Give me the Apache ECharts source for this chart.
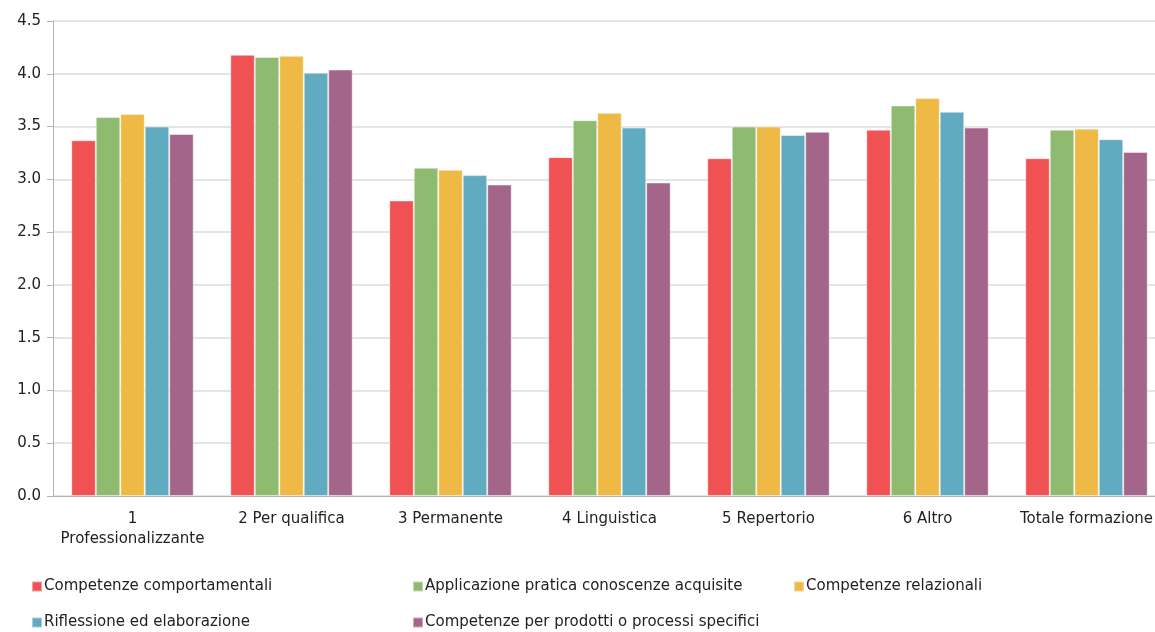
<!DOCTYPE html>
<html><head><meta charset="utf-8">
<script src="https://cdn.jsdelivr.net/npm/echarts@6/dist/echarts.min.js"></script>
<style>html,body{margin:0;padding:0;background:#fff}#c{width:1155px;height:632px}</style>
</head><body><div id="c"></div>
<script>
const categories = ['1\nProfessionalizzante','2 Per qualifica','3 Permanente','4 Linguistica','5 Repertorio','6 Altro','Totale formazione'];
const seriesNames = ['Competenze comportamentali','Applicazione pratica conoscenze acquisite','Competenze relazionali','Riflessione ed elaborazione','Competenze per prodotti o processi specifici'];
const compComportamentali = [3.37, 4.18, 2.80, 3.21, 3.20, 3.47, 3.20];
const applicazionePratica = [3.59, 4.16, 3.11, 3.56, 3.50, 3.70, 3.47];
const compRelazionali     = [3.62, 4.17, 3.09, 3.63, 3.50, 3.77, 3.48];
const riflessione         = [3.50, 4.01, 3.04, 3.49, 3.42, 3.64, 3.38];
const compProdotti        = [3.43, 4.04, 2.95, 2.97, 3.45, 3.49, 3.26];
const yTicks = {min: 0, max: 4.5, interval: 0.5};

const colors = ['#F05152','#8EBB70','#EFB946','#61ABC1','#A36589'];
const values = [compComportamentali, applicazionePratica, compRelazionali, riflessione, compProdotti];
const FONT = 'DejaVu Sans';
const FS = 15;
const chart = echarts.init(document.getElementById('c'));
const legendPos = [[31,579],[412,579],[793,579],[31,615],[412,615]];
chart.setOption({
  animation: false,
  color: colors,
  textStyle: {fontFamily: FONT},
  grid: {left: 53, top: 21, width: 1113, bottom: 136, containLabel: false, outerBoundsMode: 'none'},
  legend: seriesNames.map((n, i) => ({
    data: [n], left: legendPos[i][0], top: legendPos[i][1],
    itemWidth: 10, itemHeight: 10, icon: 'rect', padding: 0,
    textStyle: {fontFamily: FONT, fontSize: FS, color: '#222', padding: [0,0,0,-3]}
  })),
  xAxis: {
    type: 'category', data: categories,
    axisLine: {lineStyle: {color: '#b3b3b3', width: 1}},
    axisTick: {length: 6, lineStyle: {color: '#b3b3b3'}},
    axisLabel: {color: '#222', fontSize: FS, fontFamily: FONT, margin: 13, lineHeight: 20, interval: 0, hideOverlap: false}
  },
  yAxis: {
    type: 'value', min: yTicks.min, max: yTicks.max, interval: yTicks.interval,
    axisLine: {show: true, lineStyle: {color: '#b3b3b3'}},
    axisTick: {show: true, length: 6, lineStyle: {color: '#b3b3b3'}},
    axisLabel: {color: '#222', fontSize: FS, fontFamily: FONT, margin: 12,
      formatter: v => v.toFixed(1)},
    splitLine: {lineStyle: {color: '#dcdcdc', width: 1.5}}
  },
  series: seriesNames.map((n, i) => ({
    name: n, type: 'bar', data: values[i],
    barGap: '0%', barCategoryGap: '23%',
    itemStyle: {color: colors[i], borderColor: 'rgba(255,255,255,0.45)', borderWidth: 1}
  }))
});
</script></body></html>
